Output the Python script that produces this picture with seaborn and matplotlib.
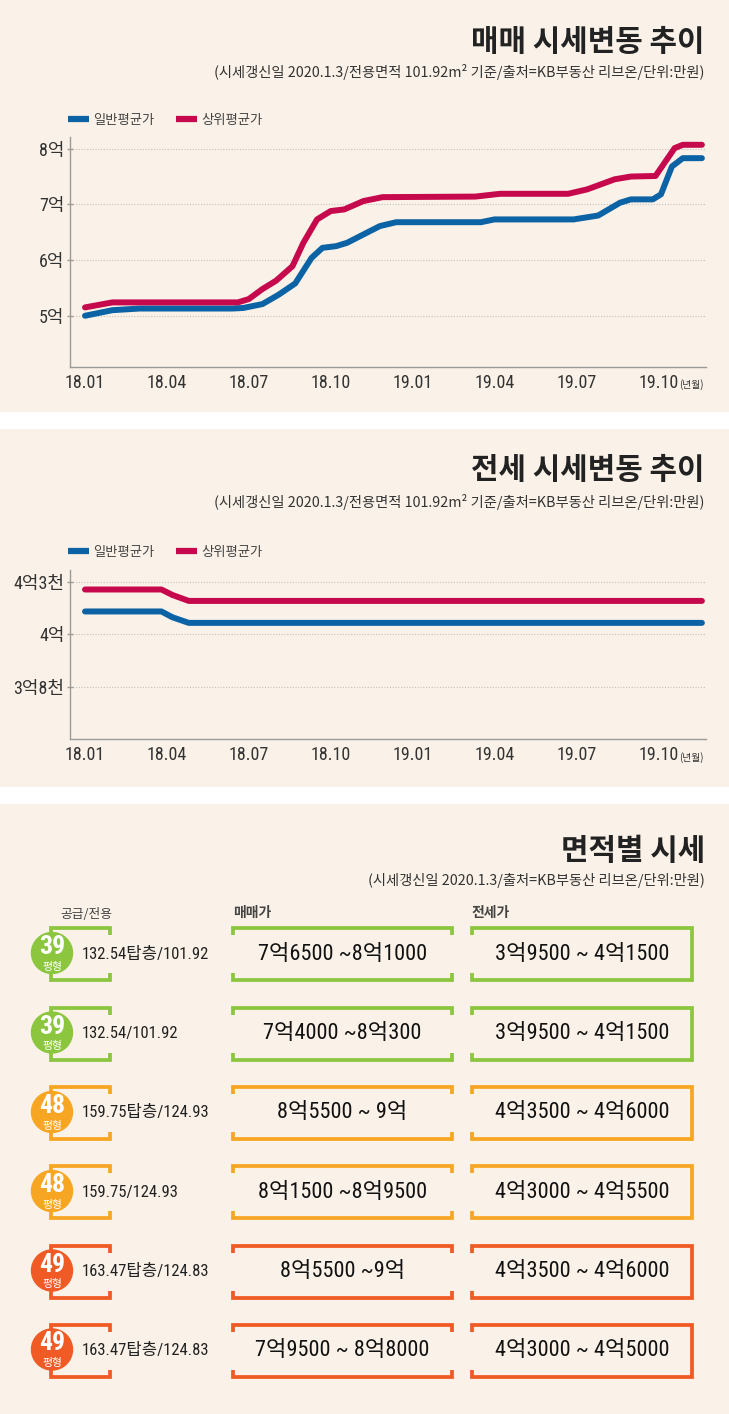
import matplotlib
matplotlib.use("Agg")
import matplotlib.pyplot as plt
from matplotlib import font_manager
from matplotlib.lines import Line2D
from matplotlib.patches import Circle, Rectangle
import pandas as pd
import seaborn as sns

# ---------------- data ----------------
series_names = ["일반평균가", "상위평균가"]

sale_months_general = [0, 1, 2, 5.4, 5.8, 6.5, 7.1, 7.7, 8.3, 8.7, 9.2, 9.6, 10.2, 10.8,
                       11.4, 14.5, 15, 17.9, 18.8, 19.6, 20, 20.8, 21.1, 21.5, 21.9, 22.6]
sale_general = [5.00, 5.10, 5.13, 5.13, 5.14, 5.21, 5.38, 5.58, 6.04, 6.22, 6.25, 6.31, 6.46,
                6.61, 6.68, 6.68, 6.73, 6.73, 6.80, 7.03, 7.09, 7.09, 7.18, 7.68, 7.83, 7.83]
sale_months_top = [0, 1, 5.6, 6, 6.5, 7, 7.6, 8, 8.5, 9, 9.5, 10.2, 10.9, 14.3, 15.2,
                   17.7, 18.4, 19.4, 20, 20.9, 21.6, 21.9, 22.6]
sale_top = [5.15, 5.24, 5.24, 5.30, 5.48, 5.63, 5.89, 6.31, 6.73, 6.88, 6.91, 7.06, 7.13,
            7.14, 7.19, 7.19, 7.27, 7.45, 7.50, 7.51, 8.01, 8.07, 8.07]

jeonse_months = [0, 2.8, 3.2, 3.8, 22.6]
jeonse_general = [41300, 41300, 40970, 40650, 40650]
jeonse_top = [42550, 42550, 42240, 41900, 41900]

month_ticks = [0, 3, 6, 9, 12, 15, 18, 21]
month_labels = ["18.01", "18.04", "18.07", "18.10", "19.01", "19.04", "19.07", "19.10"]
sale_ticks = [5, 6, 7, 8]
sale_tick_labels = ["5억", "6억", "7억", "8억"]
jeonse_ticks = [37000, 40000, 43000]
jeonse_tick_labels = ["3억8천", "4억", "4억3천"]

unit_sizes = ["39", "39", "48", "48", "49", "49"]
area_specs = ["132.54탑층/101.92", "132.54/101.92", "159.75탑층/124.93",
              "159.75/124.93", "163.47탑층/124.83", "163.47탑층/124.83"]
sale_ranges = ["7억6500 ~8억1000", "7억4000 ~8억300", "8억5500 ~ 9억",
               "8억1500 ~8억9500", "8억5500 ~9억", "7억9500 ~ 8억8000"]
jeonse_ranges = ["3억9500 ~ 4억1500", "3억9500 ~ 4억1500", "4억3500 ~ 4억6000",
                 "4억3000 ~ 4억5500", "4억3500 ~ 4억6000", "4억3000 ~ 4억5000"]

# ---------------- style ----------------
W, H = 729, 1414
BG = "#FAF2E8"
BLUE = "#0B63A5"
RED = "#C6084C"
GREEN = "#8CC63F"
ORANGE = "#F7A623"
REDOR = "#F05A24"
row_colors = [GREEN, GREEN, ORANGE, ORANGE, REDOR, REDOR]
TXT = "#222222"

sns.set_theme(style="white")
names = {f.name for f in font_manager.fontManager.ttflist}
KR = "Noto Sans CJK KR"
NARROW = next((n for n in ["Liberation Sans Narrow", "Roboto Condensed"] if n in names), KR)
NUMF = [NARROW, KR] if NARROW != KR else [KR]
plt.rcParams["font.family"] = [KR, "DejaVu Sans"]
plt.rcParams["axes.unicode_minus"] = False

fig = plt.figure(figsize=(W / 100, H / 100), dpi=100, facecolor=BG)

# background / overlay axes in pixel coordinates
bg = fig.add_axes([0, 0, 1, 1], zorder=0)
bg.set_xlim(0, W)
bg.set_ylim(H, 0)
bg.axis("off")
bg.add_patch(Rectangle((0, 412), W, 17, color="white", lw=0))
bg.add_patch(Rectangle((0, 787), W, 17, color="white", lw=0))


def pax(left, top, right, bottom):
    return fig.add_axes([left / W, 1 - bottom / H, (right - left) / W, (bottom - top) / H], zorder=2)


def header(y_title, y_sub, title, sub):
    bg.text(705, y_title, title, ha="right", va="center", fontsize=21.5,
            fontweight="bold", color=TXT, family=[KR])
    bg.text(705, y_sub, sub, ha="right", va="center", fontsize=10.3, color="#333333", family=[KR])


def line_chart(ax, months_a, vals_a, months_b, vals_b, ticks, tick_labels, ylim):
    df = pd.concat([
        pd.DataFrame({"month": months_a, "value": vals_a, "series": series_names[0]}),
        pd.DataFrame({"month": months_b, "value": vals_b, "series": series_names[1]}),
    ])
    sns.lineplot(data=df, x="month", y="value", hue="series", hue_order=series_names,
                 palette=[BLUE, RED], linewidth=4.3, legend=False, errorbar=None,
                 estimator=None, ax=ax, solid_capstyle="round", solid_joinstyle="round")
    ax.set_facecolor("none")
    ax.set_xlim(-0.55, 22.75)
    ax.set_ylim(*ylim)
    ax.set_xticks(month_ticks)
    ax.set_xticklabels(month_labels)
    ax.set_yticks(ticks)
    ax.set_yticklabels(tick_labels)
    ax.set_xlabel("")
    ax.set_ylabel("")
    for lab in ax.get_xticklabels() + ax.get_yticklabels():
        lab.set_family(NUMF)
        lab.set_fontsize(13)
        lab.set_color("#333333")
    ax.tick_params(axis="x", length=0, pad=5)
    ax.tick_params(axis="y", length=4, width=1, color="#999999", direction="inout", pad=2, left=True)
    ax.yaxis.grid(True, linestyle=(0, (1, 1.5)), color="#C2C2C2", lw=0.8)
    ax.xaxis.grid(False)
    for s in ["top", "right"]:
        ax.spines[s].set_visible(False)
    for s in ["left", "bottom"]:
        ax.spines[s].set_color("#9A9A9A")
        ax.spines[s].set_linewidth(1.0)
    handles = [Line2D([], [], color=BLUE, lw=4.5, solid_capstyle="butt"),
               Line2D([], [], color=RED, lw=4.5, solid_capstyle="butt")]
    return handles


def add_legend(ax, handles, y):
    leg = ax.legend(handles, series_names, loc="center left",
                    bbox_to_anchor=(68 / W, 1 - y / H), bbox_transform=fig.transFigure,
                    ncol=2, frameon=False, handlelength=1.6, handletextpad=0.3,
                    columnspacing=1.6, borderaxespad=0, borderpad=0,
                    prop={"family": KR, "size": 9.6})
    for t in leg.get_texts():
        t.set_color("#444444")


# ---------------- chart 1: 매매 ----------------
header(42, 72, "매매 시세변동 추이",
       "(시세갱신일 2020.1.3/전용면적 101.92m² 기준/출처=KB부동산 리브온/단위:만원)")
ax1 = pax(70, 137, 706, 367)
h = line_chart(ax1, sale_months_general, sale_general, sale_months_top, sale_top,
               sale_ticks, sale_tick_labels, (4.08, 8.21))
add_legend(ax1, h, 120)
bg.text(704, 385, "(년월)", ha="right", va="center", fontsize=7, color="#333333", family=[KR])

# ---------------- chart 2: 전세 ----------------
header(470, 502, "전세 시세변동 추이",
       "(시세갱신일 2020.1.3/전용면적 101.92m² 기준/출처=KB부동산 리브온/단위:만원)")
ax2 = pax(70, 570, 706, 739)
h = line_chart(ax2, jeonse_months, jeonse_general, jeonse_months, jeonse_top,
               jeonse_ticks, jeonse_tick_labels, (34040, 43660))
add_legend(ax2, h, 552)
bg.text(704, 758, "(년월)", ha="right", va="center", fontsize=7, color="#333333", family=[KR])

# ---------------- table: 면적별 시세 ----------------
header(851, 881, "면적별 시세", "(시세갱신일 2020.1.3/출처=KB부동산 리브온/단위:만원)")
bg.text(86, 914, "공급/전용", ha="center", va="center", fontsize=9.2, color="#444444", family=[KR])
bg.text(233, 913, "매매가", ha="left", va="center", fontsize=10, fontweight="bold",
        color="#444444", family=[KR])
bg.text(472, 913, "전세가", ha="left", va="center", fontsize=10, fontweight="bold",
        color="#444444", family=[KR])

row_y = [954, 1033.5, 1113, 1192, 1271.5, 1350.5]
LW = 2.7
TK = 7
for i, yc in enumerate(row_y):
    c = row_colors[i]
    top, bot = yc - 26, yc + 26
    kw = dict(color=c, lw=LW, solid_joinstyle="miter", solid_capstyle="butt")
    # left bracket
    bg.plot([110, 110, 51.5, 51.5, 110, 110], [top + TK, top, top, bot, bot, bot - TK], **kw)
    # 매매 box
    bg.plot([233, 233, 452, 452], [top + TK, top, top, top + TK], **kw)
    bg.plot([233, 233, 452, 452], [bot - TK, bot, bot, bot - TK], **kw)
    # 전세 box
    bg.plot([472, 472, 692, 692, 472, 472], [top + TK, top, top, bot, bot, bot - TK], **kw)
    # badge
    bg.add_patch(Circle((52, yc - 1), 20.5, color=c, zorder=5))
    bg.text(52, yc - 7, unit_sizes[i], ha="center", va="center", fontsize=18.5,
            fontweight="bold", color="white", family=NUMF, zorder=6)
    bg.text(52, yc + 12.5, "평형", ha="center", va="center", fontsize=7.8,
            color="white", family=[KR], zorder=6)
    # texts
    bg.text(82, yc, area_specs[i], ha="left", va="center", fontsize=12,
            color=TXT, family=NUMF)
    bg.text(342.5, yc, sale_ranges[i], ha="center", va="center", fontsize=16,
            color="#111111", family=NUMF)
    bg.text(582, yc, jeonse_ranges[i], ha="center", va="center", fontsize=16,
            color="#111111", family=NUMF)

fig.savefig("out.png", dpi=100, facecolor=BG)
